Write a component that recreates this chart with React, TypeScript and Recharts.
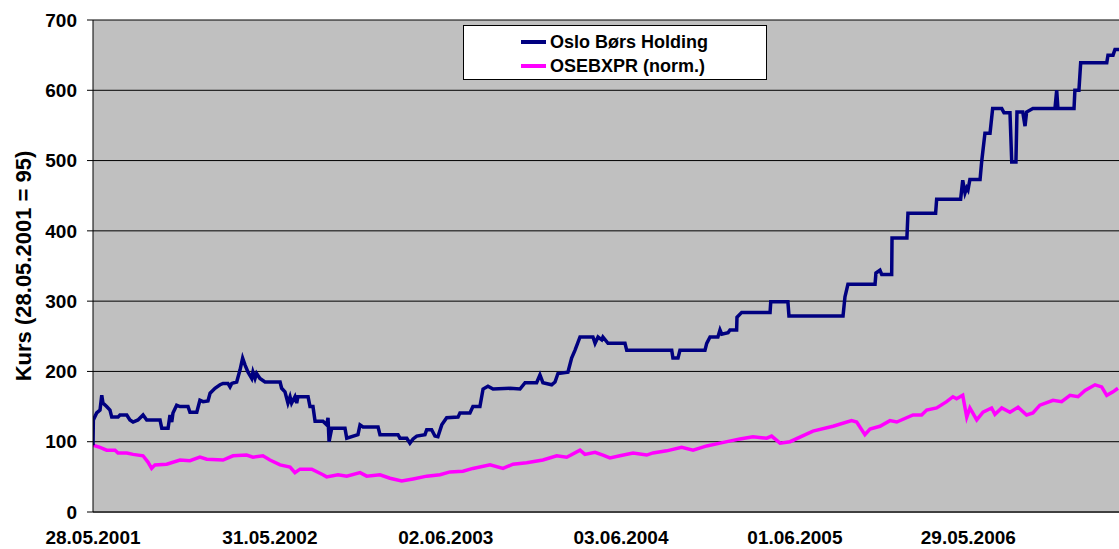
import React from 'react';
import { LineChart, Line, XAxis, YAxis, CartesianGrid, Legend } from 'recharts';

// x positions are in decimal years
const tickYears = [2001.403, 2002.414, 2003.419, 2004.42, 2005.414, 2006.405];
const tickLabels = ['28.05.2001', '31.05.2002', '02.06.2003', '03.06.2004', '01.06.2005', '29.05.2006'];
const yTicks = [0, 100, 200, 300, 400, 500, 600, 700];
const xDomain = [2001.403, 2007.266];

const seriesNames = ['Oslo Børs Holding', 'OSEBXPR (norm.)'];
const seriesColors = ['#000080', '#FF00FF'];

const oslobYears = [
  2001.403, 2001.405, 2001.424, 2001.443, 2001.453, 2001.46, 2001.481, 2001.5, 2001.51, 2001.546,
  2001.557, 2001.596, 2001.614, 2001.632, 2001.66, 2001.689, 2001.71, 2001.786, 2001.796, 2001.832,
  2001.843, 2001.853, 2001.86, 2001.881, 2001.9, 2001.946, 2001.957, 2001.996, 2002.014, 2002.032,
  2002.06, 2002.072, 2002.1, 2002.129, 2002.146, 2002.174, 2002.186, 2002.196, 2002.224, 2002.243,
  2002.258, 2002.272, 2002.289, 2002.31, 2002.317, 2002.329, 2002.338, 2002.357, 2002.386, 2002.472,
  2002.481, 2002.5, 2002.517, 2002.529, 2002.538, 2002.557, 2002.567, 2002.574, 2002.632, 2002.643,
  2002.66, 2002.672, 2002.717, 2002.738, 2002.746, 2002.752, 2002.767, 2002.843, 2002.853, 2002.917,
  2002.929, 2002.946, 2003.032, 2003.043, 2003.146, 2003.157, 2003.196, 2003.214, 2003.232, 2003.253,
  2003.3, 2003.31, 2003.338, 2003.357, 2003.374, 2003.396, 2003.424, 2003.489, 2003.5, 2003.557,
  2003.574, 2003.614, 2003.632, 2003.66, 2003.689, 2003.786, 2003.843, 2003.872, 2003.938, 2003.957,
  2003.974, 2004.024, 2004.043, 2004.06, 2004.117, 2004.138, 2004.157, 2004.186, 2004.26, 2004.272,
  2004.289, 2004.31, 2004.317, 2004.346, 2004.443, 2004.453, 2004.71, 2004.717, 2004.746, 2004.757,
  2004.9, 2004.91, 2004.929, 2004.974, 2004.986, 2004.996, 2005.032, 2005.043, 2005.081, 2005.083,
  2005.11, 2005.272, 2005.276, 2005.374, 2005.38, 2005.689, 2005.7, 2005.717, 2005.872, 2005.877,
  2005.9, 2005.91, 2005.967, 2005.969, 2006.054, 2006.06, 2006.218, 2006.224, 2006.361, 2006.373,
  2006.386, 2006.396, 2006.403, 2006.414, 2006.472, 2006.481, 2006.5, 2006.529, 2006.544, 2006.596,
  2006.609, 2006.643, 2006.653, 2006.677, 2006.683, 2006.716, 2006.729, 2006.738, 2006.774, 2006.9,
  2006.91, 2006.917, 2007.009, 2007.014, 2007.037, 2007.047, 2007.196, 2007.203, 2007.232, 2007.243,
  2007.266,
];
const oslobValues = [
  95, 131, 141, 145, 166, 155, 150, 145, 135, 135,
  138, 138, 131, 128, 131, 138, 131, 131, 119, 119,
  138, 128, 141, 152, 150, 150, 142, 142, 159, 157,
  158, 169, 176, 181, 183, 183, 178, 183, 185, 202,
  219, 209, 199, 190, 199, 190, 197, 190, 185, 185,
  176, 171, 155, 164, 155, 164, 155, 164, 164, 150,
  150, 129, 129, 124, 134, 100, 119, 119, 105, 110,
  124, 121, 121, 110, 110, 105, 105, 98, 104, 108,
  110, 117, 117, 108, 107, 124, 134, 135, 141, 141,
  150, 150, 175, 179, 175, 176, 175, 184, 184, 195,
  184, 181, 185, 197, 199, 219, 230, 249, 249, 240,
  249, 245, 249, 240, 240, 230, 230, 219, 219, 230,
  230, 240, 249, 249, 259, 253, 255, 259, 259, 277,
  284, 284, 299, 299, 279, 279, 306, 324, 324, 340,
  344, 338, 338, 390, 390, 425, 425, 445, 445, 472,
  454, 461, 458, 473, 473, 498, 539, 539, 574, 574,
  568, 568, 498, 498, 569, 569, 549, 569, 574, 574,
  600, 574, 574, 600, 600, 639, 639, 650, 650, 658,
  658,
];

const osebxYears = [
  2001.403, 2001.443, 2001.481, 2001.529, 2001.546, 2001.596, 2001.632, 2001.689, 2001.717, 2001.738,
  2001.757, 2001.824, 2001.9, 2001.957, 2002.014, 2002.053, 2002.146, 2002.203, 2002.281, 2002.317,
  2002.374, 2002.414, 2002.472, 2002.529, 2002.557, 2002.586, 2002.653, 2002.717, 2002.738, 2002.803,
  2002.853, 2002.929, 2002.967, 2003.043, 2003.1, 2003.167, 2003.232, 2003.31, 2003.386, 2003.443,
  2003.517, 2003.574, 2003.672, 2003.746, 2003.803, 2003.881, 2003.974, 2004.053, 2004.11, 2004.186,
  2004.214, 2004.272, 2004.317, 2004.357, 2004.414, 2004.489, 2004.567, 2004.603, 2004.681, 2004.767,
  2004.832, 2004.91, 2004.986, 2005.1, 2005.174, 2005.253, 2005.281, 2005.329, 2005.386, 2005.517,
  2005.632, 2005.738, 2005.767, 2005.814, 2005.843, 2005.9, 2005.957, 2005.996, 2006.089, 2006.138,
  2006.167, 2006.224, 2006.281, 2006.317, 2006.338, 2006.373, 2006.396, 2006.414, 2006.453, 2006.489,
  2006.538, 2006.557, 2006.596, 2006.643, 2006.689, 2006.738, 2006.774, 2006.814, 2006.889, 2006.938,
  2006.986, 2007.032, 2007.072, 2007.129, 2007.167, 2007.196, 2007.232, 2007.26,
];
const osebxValues = [
  95, 92, 88, 88, 84, 84, 82, 80, 71, 62,
  67, 68, 74, 73, 78, 75, 74, 80, 81, 78,
  80, 74, 67, 64, 56, 61, 61, 53, 50, 53,
  51, 56, 51, 53, 48, 44, 47, 51, 53, 57,
  58, 62, 67, 62, 68, 70, 74, 80, 78, 88,
  82, 85, 81, 77, 80, 84, 81, 84, 87, 92,
  88, 94, 98, 104, 107, 105, 108, 98, 100, 115,
  122, 130, 128, 110, 118, 122, 130, 128, 138, 138,
  145, 148, 157, 164, 161, 166, 135, 148, 131, 142,
  148, 139, 148, 142, 149, 138, 141, 152, 159, 157,
  166, 164, 173, 181, 178, 166, 171, 176,
];

const oslobData = oslobYears.map((t, i) => ({ t, v: oslobValues[i] }));
const osebxData = osebxYears.map((t, i) => ({ t, v: osebxValues[i] }));

const FONT = '"Liberation Sans", Arial, sans-serif';

const fmtX = (v: number) => {
  const i = tickYears.indexOf(v);
  return i >= 0 ? tickLabels[i] : '';
};

const LegendBox = () => (
  <div
    style={{
      boxSizing: 'border-box',
      width: 304,
      height: 55,
      background: '#fff',
      border: '1px solid #000',
      fontFamily: FONT,
      fontWeight: 'bold',
      fontSize: 18,
      color: '#000',
      paddingTop: 4,
    }}
  >
    {seriesNames.map((n, i) => (
      <div key={n} style={{ display: 'flex', alignItems: 'center', height: 24, paddingLeft: 57 }}>
        <span style={{ display: 'inline-block', width: 25, height: 4, background: seriesColors[i], marginRight: 4 }} />
        <span>{n}</span>
      </div>
    ))}
  </div>
);

const YLabel = (props: any) => {
  const vb = props.viewBox || { x: 0, y: 20, width: 93, height: 492 };
  const cx = vb.x + 23;
  const cy = vb.y + vb.height / 2;
  return (
    <text
      x={cx}
      y={cy}
      transform={`rotate(-90 ${cx} ${cy})`}
      textAnchor="middle"
      dominantBaseline="central"
      style={{ fontFamily: FONT, fontWeight: 'bold', fontSize: 22, fill: '#000' }}
    >
      Kurs (28.05.2001 = 95)
    </text>
  );
};

export default function App() {
  return (
    <div style={{ position: 'absolute', left: 0, top: 0, width: 1119, height: 549, background: '#fff' }}>
      <LineChart width={1119} height={549} margin={{ top: 20, right: 0, bottom: 0, left: 0 }} style={{ fontFamily: FONT }}>
        <CartesianGrid vertical={false} stroke="#000" fill="#C0C0C0" fillOpacity={1} />
        <XAxis
          type="number"
          dataKey="t"
          domain={xDomain}
          ticks={tickYears}
          tickFormatter={fmtX}
          allowDataOverflow
          height={37}
          tickLine={false}
          tickMargin={13}
          axisLine={{ stroke: '#404040', strokeWidth: 2 }}
          tick={{ fill: '#000', fontSize: 19, fontWeight: 'bold', fontFamily: FONT }}
          interval={0}
        />
        <YAxis
          type="number"
          domain={[0, 700]}
          ticks={yTicks}
          width={93}
          tickSize={6}
          tickMargin={10}
          axisLine={{ stroke: '#000' }}
          tickLine={{ stroke: '#000' }}
          tick={{ fill: '#000', fontSize: 19, fontWeight: 'bold', fontFamily: FONT }}
          interval={0}
          label={<YLabel />}
        />
        <Legend
          layout="vertical"
          align="center"
          verticalAlign="middle"
          content={<LegendBox />}
          wrapperStyle={{ position: 'absolute', left: 463, top: 25, width: 304, height: 55 }}
        />
        <Line
          data={osebxData}
          dataKey="v"
          name={seriesNames[1]}
          type="linear"
          stroke={seriesColors[1]}
          strokeWidth={3.5}
          dot={false}
          isAnimationActive={false}
        />
        <Line
          data={oslobData}
          dataKey="v"
          name={seriesNames[0]}
          type="linear"
          stroke={seriesColors[0]}
          strokeWidth={3.5}
          dot={false}
          isAnimationActive={false}
        />
      </LineChart>
    </div>
  );
}
